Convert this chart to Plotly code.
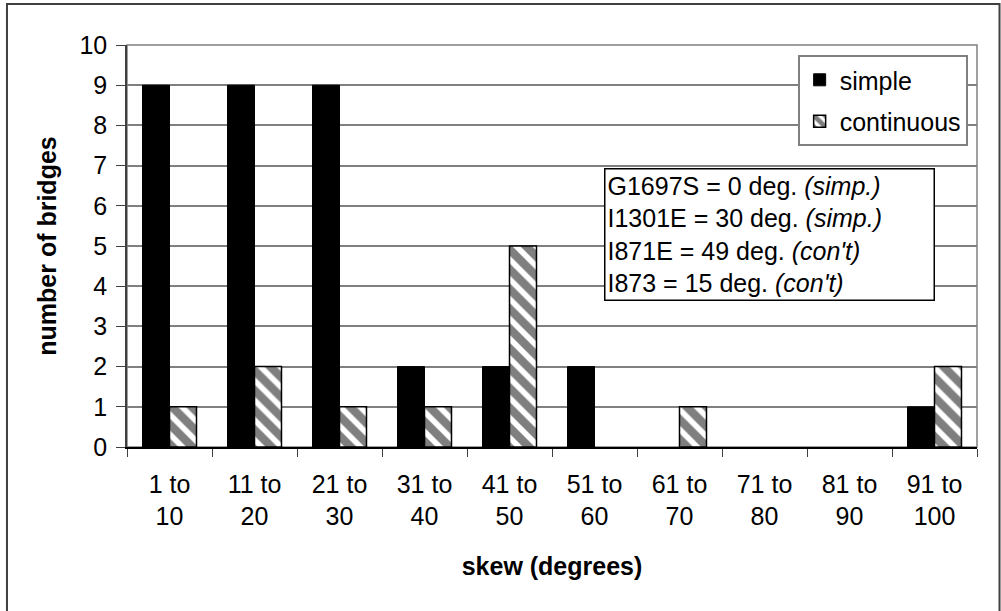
import plotly.graph_objects as go

# Skew ranges (degrees) and bridge counts per span type
categories = ["1 to<br>10", "11 to<br>20", "21 to<br>30", "31 to<br>40", "41 to<br>50",
              "51 to<br>60", "61 to<br>70", "71 to<br>80", "81 to<br>90", "91 to<br>100"]
simple_counts = [9, 9, 9, 2, 2, 2, 0, 0, 0, 1]
continuous_counts = [1, 2, 1, 1, 5, 0, 1, 0, 0, 2]
y_ticks = list(range(0, 11))

note_lines = [
    "G1697S = 0 deg. <i>(simp.)</i>",
    "I1301E = 30 deg. <i>(simp.)</i>",
    "I871E = 49 deg. <i>(con't)</i>",
    "I873 = 15 deg. <i>(con't)</i>",
]

FONT = "Liberation Sans, Arial, sans-serif"
FS = 25

# no outline on empty bars so nothing is drawn at zero
simple_outline = [0 if v == 0 else 1 for v in simple_counts]
continuous_outline = [0 if v == 0 else 1.5 for v in continuous_counts]

fig = go.Figure()
fig.add_trace(go.Bar(
    x=categories, y=simple_counts, name="simple",
    marker=dict(color="black", line=dict(color="black", width=simple_outline)),
    legendgroup="a",
))
fig.add_trace(go.Bar(
    x=categories, y=continuous_counts, name="continuous",
    marker=dict(
        color="white",
        line=dict(color="black", width=continuous_outline),
        pattern=dict(shape="\\", fgcolor="black", bgcolor="white", size=14, solidity=0.6),
    ),
    legendgroup="b",
))

# outer chart frame and plot-area frame
fig.add_shape(type="rect", xref="paper", yref="paper",
              x0=-0.1412, x1=1.0265, y0=-0.45, y1=1.102,
              line=dict(color="#404040", width=2), layer="below")
fig.add_shape(type="rect", xref="paper", yref="paper",
              x0=0, x1=1, y0=0, y1=1,
              line=dict(color="#808080", width=1.5), layer="below")

fig.add_annotation(
    xref="paper", yref="paper", x=0.561, y=0.694,
    xanchor="left", yanchor="top",
    text="<br>".join(note_lines), align="left", showarrow=False,
    font=dict(family=FONT, size=FS, color="black"),
    bordercolor="black", borderwidth=1.5, borderpad=2, bgcolor="white",
    width=324,
)

fig.update_layout(
    width=1001, height=611,
    margin=dict(l=127, r=24, t=45, b=164),
    paper_bgcolor="white", plot_bgcolor="white",
    font=dict(family=FONT, size=FS, color="black"),
    barmode="group", bargap=0.365, bargroupgap=0,
    legend=dict(
        x=0.789, y=0.975, xanchor="left", yanchor="top",
        bordercolor="#808080", borderwidth=2, bgcolor="white",
        font=dict(family=FONT, size=FS, color="black"),
        tracegroupgap=6, itemwidth=30,
    ),
    xaxis=dict(
        tickson="boundaries", ticks="outside", ticklen=8, tickcolor="#404040",
        showline=True, linecolor="black", linewidth=1.5,
        showgrid=False, ticklabelstandoff=14,
        title=dict(text="<b>skew (degrees)</b>", standoff=28,
                   font=dict(family=FONT, size=FS)),
        tickfont=dict(family=FONT, size=FS),
    ),
    yaxis=dict(
        range=[0, 10], tickvals=y_ticks, ticks="outside", ticklen=9, tickcolor="#404040",
        showline=True, linecolor="#404040", linewidth=1.5,
        showgrid=True, gridcolor="#808080", gridwidth=1.5,
        zeroline=False, ticklabelstandoff=4,
        title=dict(text="<b>number of bridges</b>", standoff=16,
                   font=dict(family=FONT, size=FS)),
        tickfont=dict(family=FONT, size=FS),
    ),
)

fig.write_html("out.html")
